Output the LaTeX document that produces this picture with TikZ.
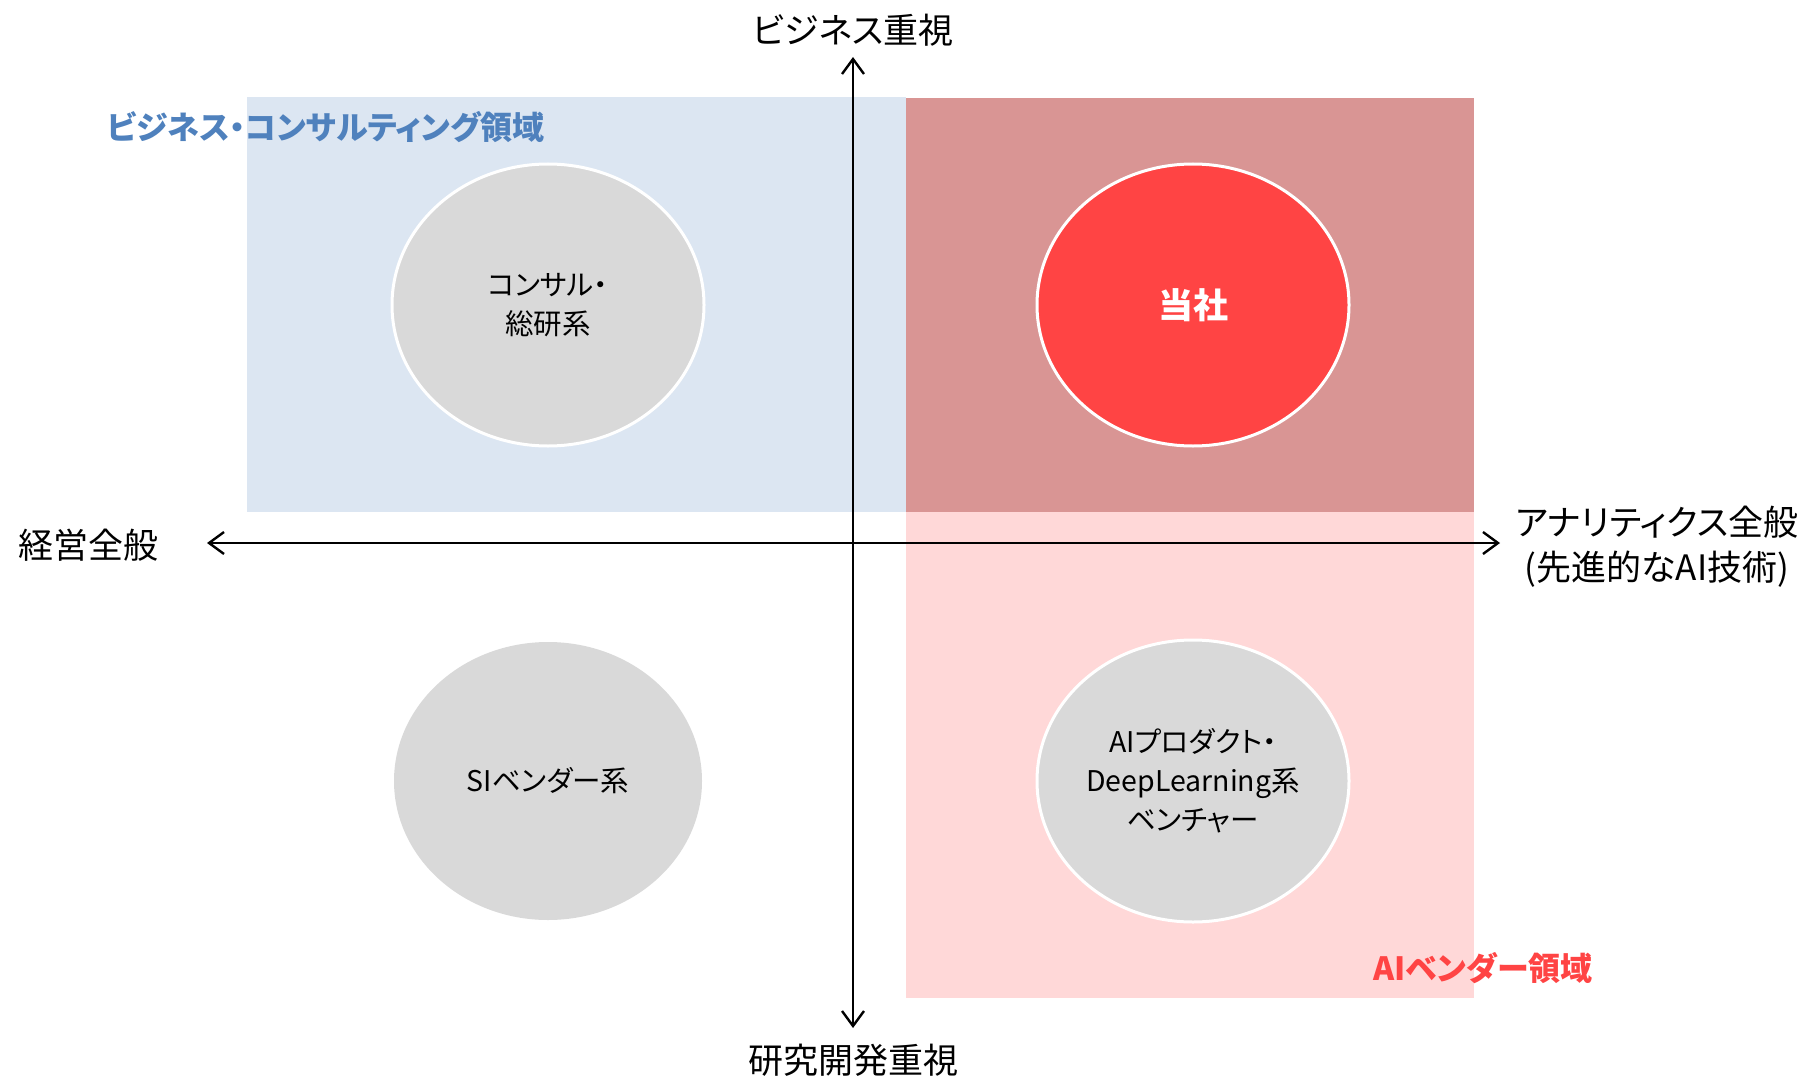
\documentclass[tikz,border=0pt]{standalone}
\usepackage{fontspec}
\setmainfont{Noto Sans CJK JP}[RawFeature=+palt]
\usetikzlibrary{arrows.meta,shapes.geometric}
\definecolor{bluebg}{HTML}{DCE6F2}
\definecolor{darkredbg}{HTML}{D99594}
\definecolor{pinkbg}{HTML}{FFD8D8}
\definecolor{redfill}{HTML}{FF4444}
\definecolor{grayfill}{HTML}{D9D9D9}
\definecolor{bluetext}{HTML}{4F81BD}
\definecolor{redtext}{HTML}{FF4444}
\tikzset{
  axis/.style={line width=2.4pt, {Straight Barb[length=15pt,width=22pt,line width=2.4pt]}-{Straight Barb[length=15pt,width=22pt,line width=2.4pt]}},
  axislabel/.style={font=\fontsize{35}{45}\selectfont, align=center, inner sep=0pt},
  bubble/.style={ellipse, minimum width=312pt, minimum height=282pt, inner sep=0pt, fill=grayfill, align=center, font=\fontsize{28.5}{39}\selectfont},
  bordered/.style={draw=white, line width=3pt},
  regionlabel/.style={font=\fontsize{32}{38}\selectfont\bfseries, inner sep=0pt}
}
\begin{document}
\begin{tikzpicture}[x=1pt,y=-1pt]
\useasboundingbox (0,0) rectangle (1798,1078);
% regions
\fill[bluebg] (247,97) rectangle (906,512);
\fill[darkredbg] (906,98) rectangle (1474,512);
\fill[pinkbg] (906,512) rectangle (1474,998);
% bubbles
\node[bubble, bordered] (consul) at (548,305) {コンサル・\\総研系};
\node[bubble, bordered, fill=redfill, text=white, font=\fontsize{35}{40}\selectfont\bfseries] (tousha) at (1193,305) {当社};
\node[bubble, minimum width=308pt, minimum height=278pt] (si) at (548,781) {SIベンダー系};
\node[bubble, bordered] (aiprod) at (1193,781) {AIプロダクト・\\DeepLearning系\\ベンチャー};
% axes
\coordinate (xl) at (207,543);
\coordinate (xr) at (1500,543);
\coordinate (yt) at (853,57);
\coordinate (yb) at (853,1028);
\draw[axis] (xl) -- (xr);
\draw[axis] (yb) -- (yt);
% axis labels
\node[axislabel] (top) at (853,30) {ビジネス重視};
\node[axislabel] (bottom) at (853,1060) {研究開発重視};
\node[axislabel] (left) at (88,545) {経営全般};
\node[axislabel] (right) at (1657,547) {アナリティクス全般\\(先進的なAI技術)};
% region labels
\node[regionlabel, text=bluetext] (bizlabel) at (326,127) {ビジネス・コンサルティング領域};
\node[regionlabel, text=redtext] (ailabel) at (1483,968) {AIベンダー領域};
\end{tikzpicture}
\end{document}
